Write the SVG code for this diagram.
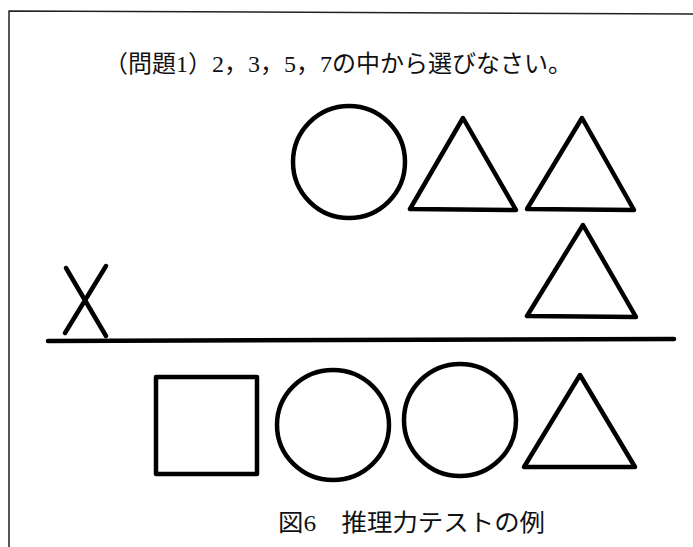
<svg xmlns="http://www.w3.org/2000/svg" width="693" height="547" viewBox="0 0 693 547">
<style>
.frame{fill:none;stroke:#222;stroke-width:1.5}
.shape{fill:none;stroke:#000;stroke-width:4.5;stroke-linejoin:round;stroke-linecap:round}
.txt{font-family:"Liberation Serif","Noto Sans CJK JP",serif;font-size:24px;fill:#111}
</style>
<rect width="693" height="547" fill="#fff"/>
<g id="frame">
<path class="frame" d="M9,547 L9,11 L693,14"/>
</g>
<g id="title"><text class="txt" x="104" y="72" textLength="468" lengthAdjust="spacingAndGlyphs">（問題1）2，3，5，7の中から選びなさい。</text></g>
<g id="row1">
<ellipse id="circle1" class="shape" cx="349" cy="162" rx="56" ry="56"/>
<polygon id="tri1" class="shape" points="463,118 410,209 516,210"/>
<polygon id="tri2" class="shape" points="582,118 527,209 634,210"/>
</g>
<g id="row2">
<g id="cross"><path class="shape" d="M66,268 L106,336 M106,266 L65,333"/></g>
<polygon id="tri3" class="shape" points="583,225 527,316 636,317"/>
</g>
<g id="connectors">
<path class="shape" d="M48,341 L674,339" stroke-width="4"/>
</g>
<g id="row3">
<rect id="square" class="shape" x="156" y="377" width="101" height="97"/>
<ellipse id="circle2" class="shape" cx="333" cy="425" rx="56" ry="55"/>
<ellipse id="circle3" class="shape" cx="460" cy="420" rx="56" ry="56"/>
<polygon id="tri4" class="shape" points="580,375 524,467 635,467"/>
</g>
<g id="caption"><text class="txt" x="278" y="531" textLength="267" lengthAdjust="spacingAndGlyphs">図6　推理力テストの例</text></g>
</svg>
